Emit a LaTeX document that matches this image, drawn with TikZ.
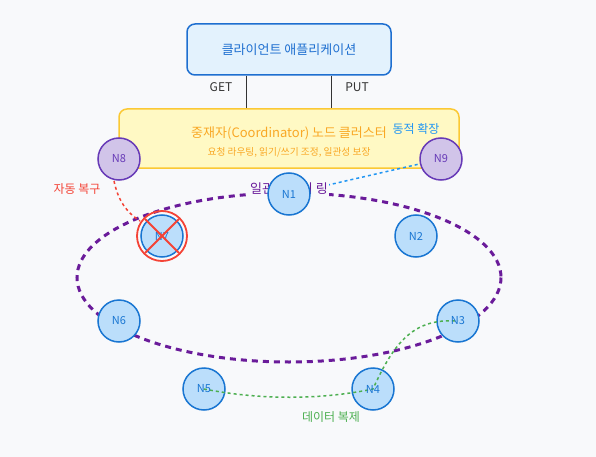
\documentclass[tikz,border=0pt]{standalone}
\usepackage{fontspec}
\usetikzlibrary{calc}
\setmainfont{Noto Sans CJK KR}
\definecolor{bgc}{HTML}{F8F9FB}
\definecolor{cliFill}{HTML}{E3F2FD}
\definecolor{cliLine}{HTML}{1E6FD0}
\definecolor{coFill}{HTML}{FFF9C4}
\definecolor{coLine}{HTML}{FBC934}
\definecolor{coText}{HTML}{F9A825}
\definecolor{ndFill}{HTML}{BBDEFB}
\definecolor{ndLine}{HTML}{1976D2}
\definecolor{puFill}{HTML}{D1C4E9}
\definecolor{puLine}{HTML}{673AB7}
\definecolor{ringc}{HTML}{6A1B9A}
\definecolor{redc}{HTML}{F44336}
\definecolor{greenc}{HTML}{4CAF50}
\definecolor{bluec}{HTML}{2196F3}
\definecolor{darkc}{HTML}{333333}
\tikzset{
  nd/.style={circle, minimum size=42pt, inner sep=0pt, fill=ndFill, draw=ndLine, line width=1.5pt},
  pnd/.style={circle, minimum size=42pt, inner sep=0pt, fill=puFill, draw=puLine, line width=1.5pt, text=puLine, font=\fontsize{11}{13}\selectfont},
  ntext/.style={text=ndLine, font=\fontsize{11}{13}\selectfont, inner sep=0pt},
  lbl/.style={font=\fontsize{12}{14}\selectfont, inner sep=1pt},
}
\begin{document}
\begin{tikzpicture}[x=1pt, y=-1pt]
\fill[bgc] (0,0) rectangle (596,457);
\useasboundingbox (0,0) rectangle (596,457);
% client
\node[draw=cliLine, fill=cliFill, line width=1.5pt, rounded corners=8pt, minimum width=204pt, minimum height=51pt, text=cliLine, font=\fontsize{13}{15}\selectfont] (cli) at (289,49.5) {클라이언트 애플리케이션};
% coordinator
\node[draw=coLine, fill=coFill, line width=1.5pt, rounded corners=8pt, minimum width=340pt, minimum height=59pt] (co) at (289,138.5) {};
\coordinate (g1) at (246.5,108.5);
\coordinate (p1) at (331.5,108.5);
\draw[darkc, line width=1.8pt] (cli.south -| g1) -- (g1);
\draw[darkc, line width=1.8pt] (cli.south -| p1) -- (p1);
\node[lbl, text=darkc] (get) at (221,87) {GET};
\node[lbl, text=darkc] (put) at (357,87) {PUT};
\node[text=coText, font=\fontsize{13}{15}\selectfont] (cot) at (289,133) {중재자(Coordinator) 노드 클러스터};
\node[text=coText, font=\fontsize{9.7}{11}\selectfont] (cos) at (289,152) {요청 라우팅, 읽기/쓰기 조정, 일관성 보장};
\node[lbl, text=bluec] (dyn) at (416,129) {동적 확장};
% ring
\draw[ringc, line width=3pt, dash pattern=on 6pt off 5pt] (289,277.5) ellipse [x radius=212, y radius=84.5];
% nodes positions
\coordinate (c1) at (289,194);
\coordinate (c9) at (441,159);
\coordinate (c8) at (119,159);
\coordinate (c7) at (162,236);
\draw[bluec, line width=1.5pt, dash pattern=on 3pt off 3pt] (c9) -- (c1);
\draw[redc, line width=1.5pt, dash pattern=on 3pt off 3pt] (114,181) .. controls (118,200) and (126,212) .. (140,221);
\node[text=ringc, fill=bgc, font=\fontsize{13}{15}\selectfont, inner sep=1pt] (ringl) at (289,189) {일관성 해시 링};
\node[nd] (N1) at (c1) {};
\node[nd] (N2) at (416,236) {};
\node[nd] (N3) at (458,321) {};
\node[nd] (N4) at (373,389) {};
\node[nd] (N5) at (204,389) {};
\node[nd] (N6) at (119,321) {};
\node[nd] (N7) at (c7) {};
\node[pnd] (N8) at (c8) {N8};
\node[pnd] (N9) at (c9) {N9};
% failed node
\draw[redc, line width=1.8pt] (N7) circle [radius=25];
% green replication
\draw[greenc, line width=1.5pt, dash pattern=on 3pt off 3pt] (N5.center) .. controls (260,400) and (320,400) .. (N4.center) .. controls (395,340) and (415,318) .. (N3.center);
\node[ntext] at (N1) {N1};
\node[ntext] at (N2) {N2};
\node[ntext] at (N3) {N3};
\node[ntext] at (N4) {N4};
\node[ntext] at (N5) {N5};
\node[ntext] at (N6) {N6};
\node[ntext] at (N7) {N7};
\draw[redc, line width=1.8pt] ($(c7)+(-17,17)$) -- ($(c7)+(17,-17)$);
\draw[redc, line width=1.8pt] ($(c7)+(-17,-17)$) -- ($(c7)+(17,17)$);
\node[lbl, text=redc] (rec) at (77,189) {자동 복구};
\node[lbl, text=greenc] (rep) at (331,417) {데이터 복제};
\end{tikzpicture}
\end{document}
